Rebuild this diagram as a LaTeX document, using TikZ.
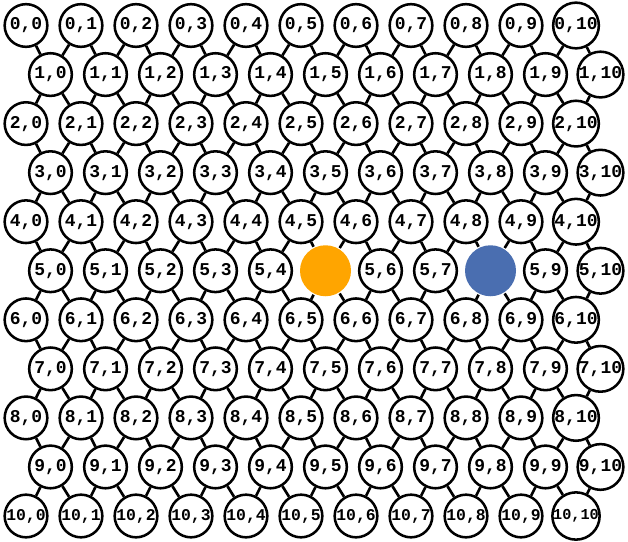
\documentclass[tikz,border=0pt]{standalone}
\usepackage{fontspec}
\setmonofont{Liberation Mono}
\usetikzlibrary{backgrounds}
\definecolor{ink}{HTML}{000000}
\definecolor{hotcol}{HTML}{FFA500}
\definecolor{coolcol}{HTML}{4A6EB0}

\begin{document}
\begin{tikzpicture}[x=0.75pt, y=-0.75pt,
  cell/.style={circle, draw=ink, fill=white, line width=1.9pt, minimum size=32pt,
               inner sep=0pt, text=ink, font=\ttfamily\bfseries\fontsize{13.5}{13.5}\selectfont},
  hotcell/.style={draw=none, fill=hotcol, minimum size=38.25pt},
  coolcell/.style={draw=none, fill=coolcol, minimum size=38.25pt},
  spot 5-5/.style={hotcell},
  spot 5-8/.style={coolcell},
  spot 10-10/.style={font=\ttfamily\bfseries\fontsize{11.4}{11.4}\selectfont},
  row 10/.style={font=\ttfamily\bfseries\fontsize{12.3}{12.3}\selectfont},
  link/.style={ink, line width=2pt}]

\useasboundingbox (0,0) rectangle (628,542);

% ---- the cells --------------------------------------------------------
\foreach \i in {0,...,10}
  \foreach \j in {0,...,10} {
    \pgfmathsetmacro\cx{26+55*\j+24.5*mod(\i,2)}
    \pgfmathsetmacro\cy{25.5+49.05*\i}
    \def\lab{\i,\j}
    \ifnum\i=5 \ifnum\j=5 \def\lab{}\fi \ifnum\j=8 \def\lab{}\fi \fi
    \node[cell, row \i/.try, spot \i-\j/.try] (n-\i-\j) at (\cx,\cy) {\lab};
  }

% ---- the links --------------------------------------------------------
\begin{scope}[on background layer]
  % along a row
  \foreach \i in {0,...,10}
    \foreach \j [evaluate=\j as \k using int(\j+1)] in {0,...,9}
      \draw[link] (n-\i-\j) -- (n-\i-\k);
  % straight down to the next row
  \foreach \i [evaluate=\i as \r using int(\i+1)] in {0,...,9}
    \foreach \j in {0,...,10}
      \draw[link] (n-\i-\j) -- (n-\r-\j);
  % the other diagonal
  \foreach \i [evaluate=\i as \r using int(\i+1)] in {0,...,9} {
    \ifodd\i
      \foreach \j [evaluate=\j as \k using int(\j+1)] in {0,...,9}
        \draw[link] (n-\i-\j) -- (n-\r-\k);
    \else
      \foreach \j [evaluate=\j as \k using int(\j-1)] in {1,...,10}
        \draw[link] (n-\i-\j) -- (n-\r-\k);
    \fi
  }
\end{scope}

\end{tikzpicture}
\end{document}
